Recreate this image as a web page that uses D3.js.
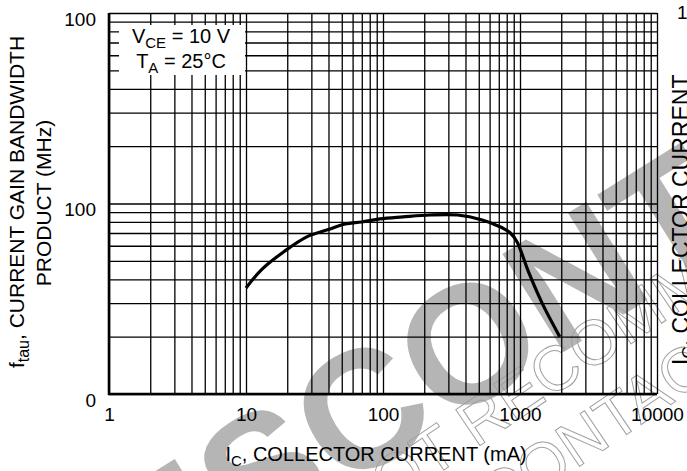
<!DOCTYPE html>
<html>
<head>
<meta charset="UTF-8">
<style>
body { margin: 0; background: #fff; }
svg { display: block; font-family: "Liberation Sans", Arial, sans-serif; }
</style>
</head>
<body>
<svg></svg>
<script src="https://d3js.org/d3.v7.min.js"></script>
<script>

// data
const icValues = [10, 13, 19, 28, 40, 53, 70, 95, 140, 220, 350, 530, 700, 850, 950, 1150, 1450, 1950];
const ftValues = [36, 45, 56, 67, 73, 78, 80, 83, 85, 87, 87, 82, 76, 70, 63, 44, 30, 20];

const xTicks = [1, 10, 100, 1000, 10000];
const xTickLabels = ["1", "10", "100", "1000", "10000"];
const yTicks = [10, 100, 1000];
const yTickLabels = ["0", "100", "100"];

let width = 687, height = 471;
let svg = d3.select("svg").attr("width", width).attr("height", height);

let mLeft = 109, mRight = 657, mTop = 13, mBottom = 394;

let x = d3.scaleLog().domain([1, 10000]).range([mLeft, mRight]);
let y = d3.scaleLog().domain([10, 1000]).range([mBottom, mTop]);

// watermark (behind grid)
let wm = svg.append("g");
wm.append("text")
  .attr("transform", "translate(103,640) rotate(-32)")
  .style("font-size", "168px")
  .style("font-weight", "bold")
  .attr("fill", "#b5b5b5")
  .text("DISCONTINUED");
wm.append("text")
  .attr("transform", "translate(352,532) rotate(-34)")
  .style("font-size", "63px")
  .attr("fill", "none")
  .attr("stroke", "#a0a0a0")
  .attr("stroke-width", 1)
  .text("NOT RECOMMENDED FOR NEW DESIGN");
wm.append("text")
  .attr("transform", "translate(497,522) rotate(-34)")
  .style("font-size", "63px")
  .attr("fill", "none")
  .attr("stroke", "#a0a0a0")
  .attr("stroke-width", 1)
  .text("CONTACT YOUR REPRESENTATIVE");

// grid
svg.append("g")
  .attr("transform", "translate(0," + mBottom + ")")
  .call(d3.axisBottom(x).tickValues(x.ticks()).tickSize(-(mBottom - mTop)).tickFormat(""))
  .call(g => g.select(".domain").remove())
  .selectAll("line").attr("stroke", "#000").attr("stroke-width", 1.3);

svg.append("g")
  .attr("transform", "translate(" + mLeft + ",0)")
  .call(d3.axisLeft(y).tickValues(y.ticks()).tickSize(-(mRight - mLeft)).tickFormat(""))
  .call(g => g.select(".domain").remove())
  .selectAll("line").attr("stroke", "#000").attr("stroke-width", 1.3);

// axis lines
svg.append("line").attr("x1", mLeft).attr("x2", mLeft).attr("y1", mTop).attr("y2", mBottom + 1)
  .attr("stroke", "#000").attr("stroke-width", 2.6);
svg.append("line").attr("x1", mLeft - 1).attr("x2", mRight).attr("y1", mBottom).attr("y2", mBottom)
  .attr("stroke", "#000").attr("stroke-width", 2.6);

// tick labels
svg.append("g")
  .attr("transform", "translate(0," + mBottom + ")")
  .call(d3.axisBottom(x).tickValues(xTicks).tickSize(0).tickPadding(14).tickFormat((d, i) => xTickLabels[i]))
  .call(g => g.select(".domain").remove())
  .selectAll("text").attr("fill", "#000").style("font-size", "19px");

svg.append("g")
  .attr("transform", "translate(96,0)")
  .call(d3.axisLeft(y).tickValues(yTicks).tickSize(0).tickPadding(0).tickFormat((d, i) => yTickLabels[i]))
  .call(g => g.select(".domain").remove())
  .selectAll("text").attr("fill", "#000").style("font-size", "19px")
  .attr("dy", "0.75em").attr("y", -2);

svg.selectAll("g").attr("font-family", null);

// legend box
svg.append("rect").attr("x", 119).attr("y", 25).attr("width", 126).attr("height", 50).attr("fill", "#fff");
let leg1 = svg.append("text").attr("x", 181).attr("y", 43).attr("text-anchor", "middle").style("font-size", "20px");
leg1.append("tspan").text("V");
leg1.append("tspan").attr("dy", 5).style("font-size", "15px").text("CE");
leg1.append("tspan").attr("dy", -5).text(" = 10 V");
let leg2 = svg.append("text").attr("x", 181).attr("y", 68).attr("text-anchor", "middle").style("font-size", "20px");
leg2.append("tspan").text("T");
leg2.append("tspan").attr("dy", 5).style("font-size", "15px").text("A");
leg2.append("tspan").attr("dy", -5).text(" = 25°C");

// curve
let line = d3.line()
  .x((d, i) => x(icValues[i]))
  .y(d => y(d))
  .curve(d3.curveCatmullRom.alpha(0.5));
svg.append("path")
  .attr("d", line(ftValues))
  .attr("fill", "none")
  .attr("stroke", "#000")
  .attr("stroke-width", 3.2);

// axis titles
let xt = svg.append("text").attr("x", 376).attr("y", 461).attr("text-anchor", "middle").style("font-size", "20px");
xt.append("tspan").text("I");
xt.append("tspan").attr("dy", 5).style("font-size", "15px").text("C");
xt.append("tspan").attr("dy", -5).text(", COLLECTOR CURRENT (mA)");

let yt = svg.append("text").attr("transform", "translate(24,202) rotate(-90)").attr("text-anchor", "middle").style("font-size", "21px");
yt.append("tspan").text("f");
yt.append("tspan").attr("dy", 5).style("font-size", "16px").text("tau");
yt.append("tspan").attr("dy", -5).text(", CURRENT GAIN BANDWIDTH");
svg.append("text").attr("transform", "translate(51,203) rotate(-90)").attr("text-anchor", "middle")
  .style("font-size", "21px").text("PRODUCT (MHz)");

// bits of the neighbouring chart at the right edge
svg.append("text").attr("x", 677).attr("y", 19).style("font-size", "19px").text("1");
let rt = svg.append("text").attr("transform", "translate(689,365) rotate(-90)").style("font-size", "23px");
rt.append("tspan").text("I");
rt.append("tspan").attr("dy", 5).style("font-size", "17px").text("C");
rt.append("tspan").attr("dy", -5).text(", COLLECTOR CURRENT");

</script>
</body>
</html>
